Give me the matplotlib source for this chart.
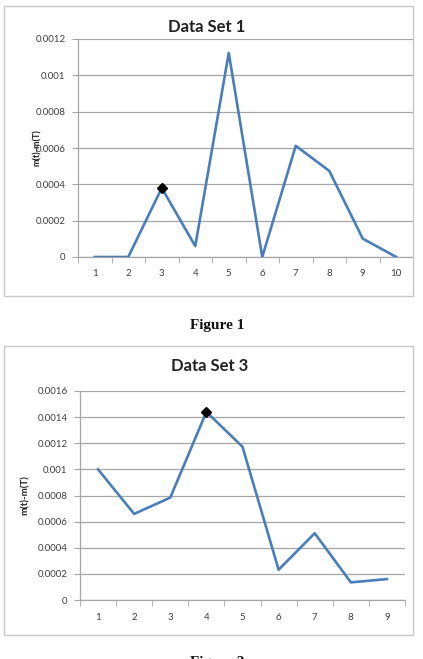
import matplotlib
matplotlib.use("Agg")
import matplotlib.pyplot as plt
from matplotlib.patches import Rectangle

# Data Set 1
set1_x = [1, 2, 3, 4, 5, 6, 7, 8, 9, 10]
set1_y = [0.0, 0.0, 0.00038, 0.00006, 0.001123, 0.0, 0.000612, 0.000474, 0.000101, 0.0]
set1_mark = 3
set1_yticks = [0, 0.0002, 0.0004, 0.0006, 0.0008, 0.001, 0.0012]
set1_ylabels = ["0", "0.0002", "0.0004", "0.0006", "0.0008", "0.001", "0.0012"]

# Data Set 3
set3_x = [1, 2, 3, 4, 5, 6, 7, 8, 9]
set3_y = [0.001, 0.000659, 0.000784, 0.00144, 0.001173, 0.000232, 0.000511, 0.000135, 0.00016]
set3_mark = 4
set3_yticks = [0, 0.0002, 0.0004, 0.0006, 0.0008, 0.001, 0.0012, 0.0014, 0.0016]
set3_ylabels = ["0", "0.0002", "0.0004", "0.0006", "0.0008", "0.001", "0.0012", "0.0014", "0.0016"]

W, H = 423, 659
LINE = "#4a7ebb"
GRID = "#a6a6a6"
TXT = "#404040"


def px(left, top, right, bottom):
    return [left / W, 1 - bottom / H, (right - left) / W, (bottom - top) / H]


def panel(fig, frame, area, title, title_xy, ylab_x, ylab_size, xs, ys, mark, yticks, ylabels):
    fl, ft, fr, fb = frame
    fig.patches.append(Rectangle((fl / W, 1 - fb / H), (fr - fl) / W, (fb - ft) / H,
                                 transform=fig.transFigure, fill=False,
                                 edgecolor="#c8c8c8", linewidth=1.0))
    ax = fig.add_axes(px(*area))
    ax.plot(xs, ys, color=LINE, linewidth=1.9, zorder=3)
    i = xs.index(mark)
    ax.plot([xs[i]], [ys[i]], marker="D", color="black", markersize=5, zorder=4)
    ax.set_xlim(0.5, len(xs) + 0.5)
    ax.set_ylim(yticks[0], yticks[-1])
    ax.set_yticks(yticks)
    ax.set_yticklabels(ylabels)
    ax.set_xticks(xs)
    ax.set_xticklabels([str(v) for v in xs])
    ax.set_xticks([v + 0.5 for v in [0] + xs], minor=True)
    ax.tick_params(axis="x", which="major", length=0, pad=9, labelsize=7, labelcolor=TXT)
    ax.tick_params(axis="x", which="minor", length=4, color=GRID, direction="out")
    ax.tick_params(axis="y", length=4, color=GRID, pad=5, labelsize=7, labelcolor=TXT)
    ax.grid(axis="y", color=GRID, linewidth=0.9)
    ax.set_axisbelow(True)
    for s in ("top", "right"):
        ax.spines[s].set_visible(False)
    for s in ("left", "bottom"):
        ax.spines[s].set_color(GRID)
        ax.spines[s].set_linewidth(0.9)
    fig.text(title_xy[0] / W, 1 - title_xy[1] / H, title,
             ha="center", va="center", fontsize=12, fontweight="bold", color="#222222")
    fig.text(ylab_x / W, 1 - (area[1] + area[3]) / 2 / H, "m(t)-m(T)", rotation=90,
             ha="center", va="center", fontsize=ylab_size, fontweight="bold", color="#222222")
    return ax


plt.rcParams["font.family"] = ["Lato", "DejaVu Sans"]
fig = plt.figure(figsize=(W / 100, H / 100), dpi=100)

panel(fig, (4, 6, 413, 296), (78, 39, 413, 257), "Data Set 1", (207, 27), 37, 6.5,
      set1_x, set1_y, set1_mark, set1_yticks, set1_ylabels)
panel(fig, (4, 346, 413, 635), (80, 391, 405, 600), "Data Set 3", (210, 366), 25, 7,
      set3_x, set3_y, set3_mark, set3_yticks, set3_ylabels)

fig.text(217 / W, 1 - 325 / H, "Figure 1", ha="center", va="center", fontsize=11,
         fontweight="bold", family=["Liberation Serif", "DejaVu Serif"], color="#111111")
fig.text(217 / W, 1 - 656 / H, "Figure 2", ha="center", va="top", fontsize=11,
         fontweight="bold", family=["Liberation Serif", "DejaVu Serif"], color="#111111")

fig.savefig("out.png", dpi=100)
